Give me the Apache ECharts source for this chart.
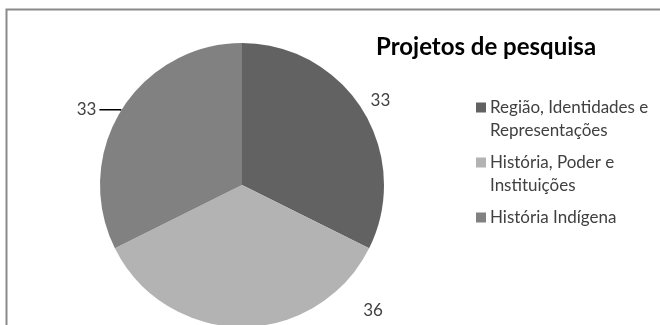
<!DOCTYPE html>
<html>
<head>
<meta charset="utf-8">
<script src="https://cdn.jsdelivr.net/npm/echarts@6/dist/echarts.min.js"></script>
<style>
  html, body { margin: 0; padding: 0; background: #ffffff; }
  #chart { width: 660px; height: 325px; }
</style>
</head>
<body>
<div id="chart"></div>
<script>
// Projetos de pesquisa por linha
const categories = [
  'Região, Identidades e\nRepresentações',
  'História, Poder e\nInstituições',
  'História Indígena'
];
const values = [33, 36, 33];
const colors = ['#626262', '#b3b3b3', '#818181'];

const FONT = 'Lato';
const TEXT = '#404040';

// legend rows: a coloured square on the first line, wrapped text indented below
const rich = {
  t: { fontFamily: FONT, fontSize: 17, color: TEXT, lineHeight: 23 },
  ind: { fontFamily: FONT, fontSize: 17, color: TEXT, lineHeight: 23, padding: [0, 0, 0, 14] },
  gap: { width: 4 }
};
colors.forEach((c, i) => {
  rich['sq' + i] = { width: 10, height: 10, backgroundColor: c };
});

// where the value labels sit relative to their slices
const labelShift = [
  { dx: -6, dy: -6 },
  null,
  { dx: 0, dy: 0 }
];

const chart = echarts.init(document.getElementById('chart'), null, { renderer: 'canvas' });
chart.setOption({
  animation: false,
  backgroundColor: '#ffffff',
  title: {
    text: 'Projetos de pesquisa',
    left: 371, top: 30,
    textStyle: { fontFamily: FONT, fontWeight: 'bold', fontSize: 24, color: '#000000' }
  },
  legend: {
    orient: 'vertical',
    left: 466, top: 91,
    icon: 'none',
    itemWidth: 0, itemHeight: 8,
    itemGap: 9,
    selectedMode: false,
    data: categories,
    formatter: function (name) {
      const i = categories.indexOf(name);
      const lines = name.split('\n');
      let s = '{sq' + i + '|}{gap|}{t|' + lines[0] + '}';
      for (let k = 1; k < lines.length; k++) s += '\n{ind|' + lines[k] + '}';
      return s;
    },
    textStyle: { rich: rich, fontFamily: FONT, fontSize: 17, color: TEXT, lineHeight: 23 }
  },
  graphic: [{
    type: 'rect',
    shape: { x: 6.5, y: 9.5, width: 700, height: 400 },
    style: { fill: 'none', stroke: '#8a8a8a', lineWidth: 2 },
    silent: true
  }],
  series: [{
    type: 'pie',
    center: [242, 185],
    radius: 142,
    startAngle: 90,
    clockwise: true,
    avoidLabelOverlap: false,
    itemStyle: { borderWidth: 0 },
    emphasis: { disabled: true },
    label: {
      show: true,
      position: 'outside',
      formatter: '{c}',
      fontFamily: FONT,
      fontSize: 17,
      color: TEXT,
      distanceToLabelLine: 3
    },
    labelLine: { show: false, length: 8, length2: 4 },
    labelLayout: function (p) {
      const s = labelShift[p.dataIndex];
      if (s) return { dx: s.dx, dy: s.dy };
      // the bottom slice's value sits to the lower right of the pie
      const r = p.labelRect;
      return { dx: 373 - (r.x + r.width / 2), dy: 311 - (r.y + r.height / 2) };
    },
    data: values.map((v, i) => {
      const d = { value: v, name: categories[i], itemStyle: { color: colors[i] } };
      if (i === 2) {
        d.labelLine = { show: true, length: 1, length2: 21, lineStyle: { color: '#000000', width: 1.5 } };
        d.label = { padding: [0, 0, 10, 0] };
      }
      return d;
    })
  }]
});
</script>
</body>
</html>
